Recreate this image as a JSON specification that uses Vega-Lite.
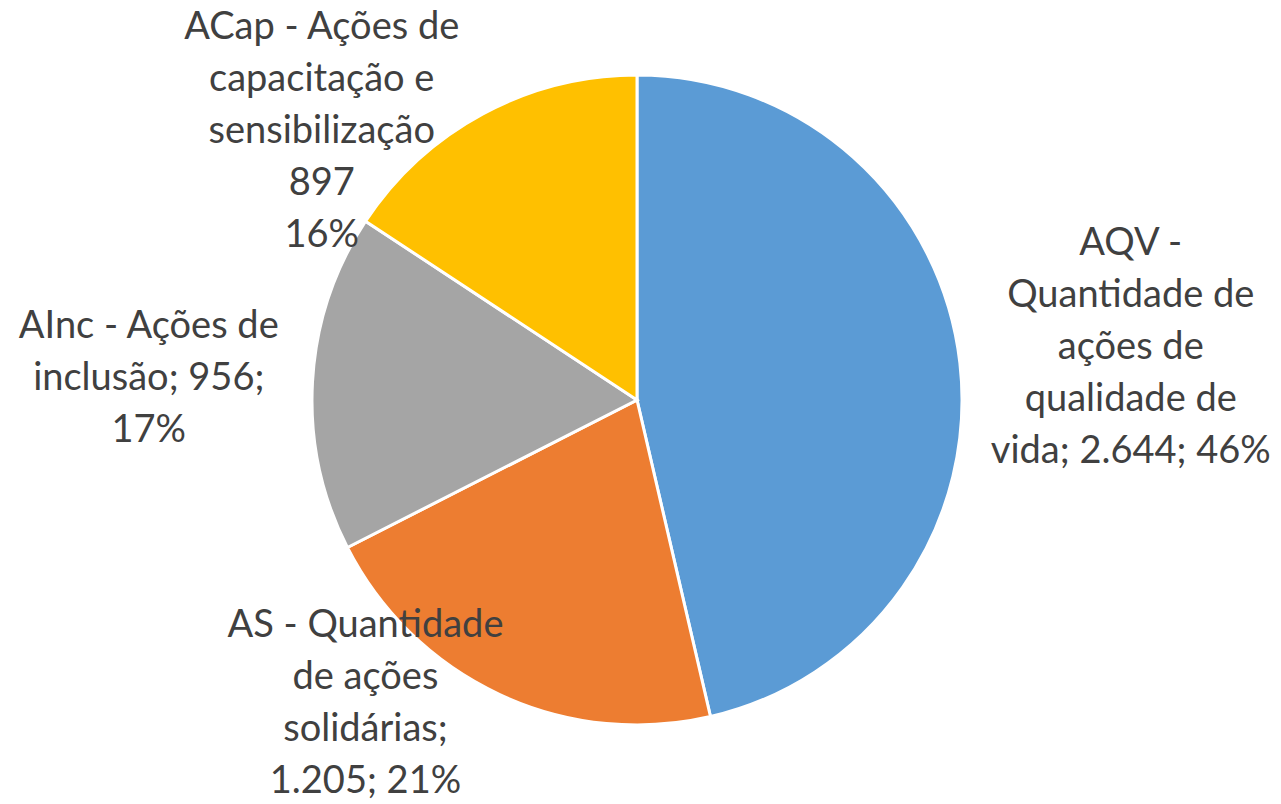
{
  "$schema": "https://vega.github.io/schema/vega-lite/v6.json",
  "width": 1274,
  "height": 800,
  "autosize": {"type": "none"},
  "padding": {"left": 0, "top": 0, "right": 7, "bottom": 4},
  "background": "white",
  "view": {"stroke": null},
  "data": {
    "values": [
      {"cat": "AQV", "value": 2644, "label": "AQV -\nQuantidade de\nações de\nqualidade de\nvida; 2.644; 46%"},
      {"cat": "AS", "value": 1205, "label": "AS - Quantidade\nde ações\nsolidárias;\n1.205; 21%"},
      {"cat": "AInc", "value": 956, "label": "AInc - Ações de\ninclusão; 956;\n17%"},
      {"cat": "ACap", "value": 897, "label": "ACap - Ações de\ncapacitação e\nsensibilização\n897\n16%"}
    ]
  },
  "encoding": {
    "theta": {"field": "value", "type": "quantitative", "stack": true},
    "order": {"field": "value", "type": "quantitative", "sort": "descending"}
  },
  "layer": [
    {
      "mark": {"type": "arc", "outerRadius": 325, "stroke": "white", "strokeWidth": 3},
      "encoding": {
        "color": {
          "field": "cat",
          "type": "nominal",
          "scale": {"domain": ["AQV", "AS", "AInc", "ACap"], "range": ["#5B9BD5", "#ED7D31", "#A5A5A5", "#FFC000"]},
          "legend": null
        }
      }
    },
    {
      "mark": {"type": "text", "font": "Lato", "fontSize": 38, "lineHeight": 52, "lineBreak": "\n", "fill": "#404040", "align": "center", "baseline": "middle", "dy": -99},
      "encoding": {
        "radius": {"value": 497},
        "text": {"condition": {"test": "datum.cat === 'AQV'", "field": "label"}, "value": ""}
      }
    },
    {
      "mark": {"type": "text", "font": "Lato", "fontSize": 38, "lineHeight": 52, "lineBreak": "\n", "fill": "#404040", "align": "center", "baseline": "middle", "dx": -128, "dy": -82},
      "encoding": {
        "radius": {"value": 340},
        "text": {"condition": {"test": "datum.cat === 'AS'", "field": "label"}, "value": ""}
      }
    },
    {
      "mark": {"type": "text", "font": "Lato", "fontSize": 38, "lineHeight": 52, "lineBreak": "\n", "fill": "#404040", "align": "center", "baseline": "middle", "dy": -46},
      "encoding": {
        "radius": {"value": 489},
        "text": {"condition": {"test": "datum.cat === 'AInc'", "field": "label"}, "value": ""}
      }
    },
    {
      "mark": {"type": "text", "font": "Lato", "fontSize": 38, "lineHeight": 52, "lineBreak": "\n", "fill": "#404040", "align": "center", "baseline": "middle", "dx": -154, "dy": -73},
      "encoding": {
        "radius": {"value": 340},
        "text": {"condition": {"test": "datum.cat === 'ACap'", "field": "label"}, "value": ""}
      }
    }
  ]
}
